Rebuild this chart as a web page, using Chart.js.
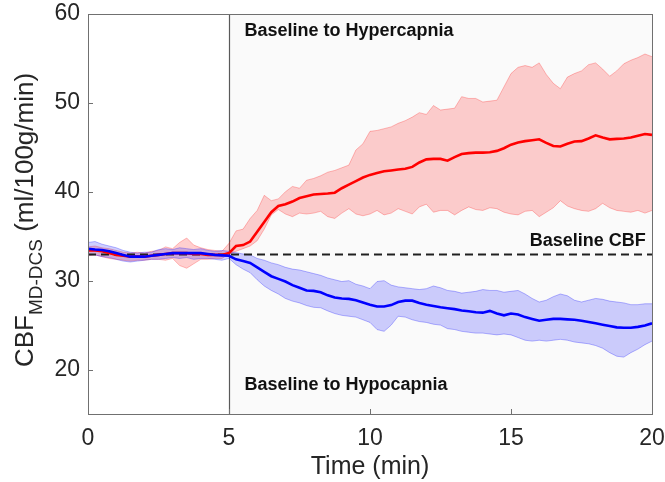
<!DOCTYPE html>
<html>
<head>
<meta charset="utf-8">
<title>CBF MD-DCS during hypercapnia and hypocapnia</title>
<script src="https://cdn.jsdelivr.net/npm/chart.js@4.4.1/dist/chart.umd.min.js"></script>
<style>
    html, body { margin: 0; padding: 0; background: #ffffff; }
    #wrap { width: 665px; height: 482px; }
</style>
</head>
<body>
<div id="wrap"><canvas id="cbfChart"></canvas></div>
<script>
// time axis (min)
const timeMin = [0,0.25,0.5,0.75,1,1.25,1.5,1.75,2,2.25,2.5,2.75,3,3.25,3.5,3.75,4,4.25,4.5,4.75,
    5,5.25,5.5,5.75,6,6.25,6.5,6.75,7,7.25,7.5,7.75,8,8.25,8.5,8.75,9,9.25,9.5,9.75,
    10,10.25,10.5,10.75,11,11.25,11.5,11.75,12,12.25,12.5,12.75,13,13.25,13.5,13.75,14,14.25,14.5,14.75,
    15,15.25,15.5,15.75,16,16.25,16.5,16.75,17,17.25,17.5,17.75,18,18.25,18.5,18.75,19,19.25,19.5,19.75,20];

// baseline -> hypercapnia (red)
const hyperMean = [33.4,33.4,33.3,33.1,32.9,32.8,32.7,32.7,32.7,32.8,32.9,33.0,33.1,33.1,33.1,33.0,33.0,32.9,32.9,32.9,
    33.1,33.9,34.0,34.4,35.5,36.6,37.7,38.4,38.6,38.9,39.3,39.5,39.7,39.75,39.8,39.9,40.4,40.8,41.2,41.6,
    41.9,42.1,42.3,42.4,42.5,42.6,42.8,43.3,43.65,43.7,43.7,43.5,43.9,44.25,44.35,44.4,44.4,44.45,44.6,44.9,
    45.3,45.55,45.7,45.8,45.9,45.5,45.15,45.1,45.4,45.65,45.7,46.0,46.35,46.1,45.9,45.95,46.0,46.1,46.3,46.5,46.4];
const hyperUpper = [33.8,33.9,33.7,33.6,33.4,33.2,33.1,33.2,33.1,33.3,33.4,33.8,33.6,34.3,34.8,34.0,33.7,33.5,33.4,33.3,
    34.2,35.6,35.8,37.0,37.9,39.6,39.0,39.2,40.0,40.6,40.4,41.3,41.5,41.8,42.2,42.4,42.7,43.0,44.7,45.4,
    46.8,46.9,47.1,47.3,47.7,48.0,48.4,48.9,48.7,49.7,49.2,49.3,49.4,50.7,50.5,50.5,50.1,50.2,50.3,51.8,
    53.3,54.0,54.2,54.0,54.5,53.2,52.2,51.6,52.9,53.3,53.6,54.3,54.5,53.8,53.0,53.6,54.4,54.8,55.1,55.5,55.2];
const hyperLower = [32.8,32.9,32.7,32.5,32.4,32.3,32.2,32.3,32.3,32.4,32.4,32.3,32.5,31.7,31.4,31.9,32.4,32.4,32.5,32.5,
    33.0,33.3,33.6,33.9,34.5,35.8,37.4,38.0,37.5,37.2,37.6,37.5,37.6,37.8,37.2,37.0,37.6,38.1,37.5,37.3,
    37.5,37.9,37.4,37.6,38.1,37.8,37.5,38.3,38.6,37.7,37.9,37.9,37.4,37.9,38.3,38.0,37.9,38.2,38.1,37.7,
    37.5,37.4,37.8,37.9,37.2,37.7,38.2,39.0,38.4,38.1,37.9,37.8,38.1,38.7,38.2,37.9,37.8,37.7,37.9,37.6,37.9];

// baseline -> hypocapnia (blue)
const hypoMean = [33.6,33.5,33.45,33.3,33.1,32.9,32.7,32.7,32.7,32.8,32.9,33.0,33.1,33.1,33.1,33.1,33.1,33.0,32.9,32.85,
    32.8,32.4,32.2,32.0,31.5,31.0,30.5,30.2,29.9,29.5,29.2,28.9,28.85,28.7,28.35,28.1,28.0,27.95,27.8,27.55,
    27.3,27.1,27.1,27.25,27.6,27.75,27.75,27.5,27.3,27.15,27.0,26.9,26.8,26.65,26.55,26.45,26.4,26.6,26.3,26.1,
    26.3,26.2,25.9,25.7,25.5,25.6,25.7,25.7,25.65,25.6,25.5,25.35,25.2,25.05,24.9,24.75,24.7,24.7,24.8,24.95,25.2];
const hypoUpper = [34.3,34.4,34.1,33.9,33.7,33.4,33.2,33.1,33.2,33.2,33.5,33.6,33.5,33.7,33.6,33.5,33.6,33.4,33.3,33.4,
    33.3,33.15,33.0,32.9,32.5,32.3,32.0,31.8,31.5,31.3,31.2,31.0,30.8,30.6,30.3,30.1,29.9,30.0,29.6,29.4,
    29.1,29.9,30.0,29.5,29.3,29.2,29.1,29.0,29.1,29.4,29.2,28.9,28.8,28.6,28.7,28.8,29.0,28.9,28.9,28.7,
    28.8,28.9,28.5,28.0,27.6,27.8,28.2,28.5,28.3,27.8,27.6,27.8,28.0,27.9,27.7,27.6,27.5,27.3,27.3,27.4,27.4];
const hypoLower = [32.9,32.9,32.7,32.6,32.4,32.2,32.1,32.2,32.3,32.4,32.4,32.5,32.6,32.5,32.6,32.4,32.5,32.5,32.4,32.3,
    32.5,31.8,31.3,30.9,30.1,29.4,28.9,28.5,28.0,27.7,27.5,27.2,27.0,26.95,26.6,26.3,26.1,26.0,25.9,25.6,
    25.3,24.5,24.3,25.0,26.0,25.9,25.6,25.4,25.3,25.1,25.0,24.6,24.5,24.3,24.2,24.1,24.1,24.0,23.9,24.0,
    23.9,23.6,23.3,23.2,23.3,23.2,23.3,23.4,23.3,23.1,23.0,22.9,22.7,22.4,21.9,21.5,21.4,21.9,22.3,22.8,23.2];

const baselineCBF = 33;
const challengeStart = 5;
const xTicks = [0, 5, 10, 15, 20];
const yTicks = [20, 30, 40, 50, 60];

const FONT = '"Liberation Sans", Arial, Helvetica, sans-serif';

function toPoints(vals) {
    return timeMin.map((t, i) => ({ x: t, y: vals[i] }));
}

function lineSet(label, vals, color, width, fill, bg) {
    return {
        label: label,
        data: toPoints(vals),
        borderColor: color,
        borderWidth: width,
        backgroundColor: bg || 'transparent',
        fill: fill,
        pointRadius: 0,
        tension: 0
    };
}

// first dataset ends up on top
const datasets = [
    lineSet('Hypocapnia mean', hypoMean, '#0000ff', 2.6, false),
    lineSet('Hypercapnia mean', hyperMean, '#ff0000', 2.6, false),
    lineSet('Hypocapnia upper', hypoUpper, 'rgba(0,0,255,0.28)', 1, '+1', 'rgba(0,0,255,0.19)'),
    lineSet('Hypocapnia lower', hypoLower, 'rgba(0,0,255,0.28)', 1, false),
    lineSet('Hypercapnia upper', hyperUpper, 'rgba(255,0,0,0.25)', 1, '+1', 'rgba(255,0,0,0.19)'),
    lineSet('Hypercapnia lower', hyperLower, 'rgba(255,0,0,0.25)', 1, false)
];

const decor = {
    id: 'decor',
    beforeDatasetsDraw(chart) {
        const { ctx, chartArea: a, scales: { x, y } } = chart;
        const x5 = x.getPixelForValue(challengeStart);
        ctx.save();
        ctx.fillStyle = '#fafafa';
        ctx.fillRect(x5, a.top, a.right - x5, a.bottom - a.top);
        ctx.strokeStyle = '#5a5a5a';
        ctx.lineWidth = 1.2;
        ctx.beginPath();
        ctx.moveTo(Math.round(x5) + 0.5, a.top);
        ctx.lineTo(Math.round(x5) + 0.5, a.bottom);
        ctx.stroke();
        ctx.restore();
    },
    afterDatasetDraw(chart, args) {
        if (args.index !== 2) return;
        const { ctx, chartArea: a, scales: { y } } = chart;
        const yb = Math.round(y.getPixelForValue(baselineCBF)) + 0.5;
        ctx.save();
        ctx.strokeStyle = '#202020';
        ctx.lineWidth = 2;
        ctx.setLineDash([8, 5]);
        ctx.beginPath();
        ctx.moveTo(a.left, yb);
        ctx.lineTo(a.right, yb);
        ctx.stroke();
        ctx.restore();
    },
    afterDraw(chart) {
        const { ctx, chartArea: a, scales: { x, y } } = chart;
        ctx.save();
        // box
        ctx.strokeStyle = '#707070';
        ctx.lineWidth = 1;
        ctx.strokeRect(Math.round(a.left) + 0.5, Math.round(a.top) + 0.5,
            Math.round(a.right - a.left), Math.round(a.bottom - a.top));
        // inward ticks
        ctx.beginPath();
        yTicks.forEach(v => {
            const py = Math.round(y.getPixelForValue(v)) + 0.5;
            ctx.moveTo(a.left, py); ctx.lineTo(a.left + 5, py);
        });
        xTicks.forEach(v => {
            const px = Math.round(x.getPixelForValue(v)) + 0.5;
            ctx.moveTo(px, a.bottom); ctx.lineTo(px, a.bottom - 5);
        });
        ctx.stroke();

        // annotations
        ctx.fillStyle = '#111111';
        ctx.font = 'bold 18px ' + FONT;
        ctx.textBaseline = 'middle';
        ctx.textAlign = 'left';
        ctx.fillText('Baseline to Hypercapnia', x.getPixelForValue(5.55), y.getPixelForValue(58.1));
        ctx.fillText('Baseline to Hypocapnia', x.getPixelForValue(5.55), y.getPixelForValue(18.3));
        ctx.textAlign = 'right';
        ctx.fillText('Baseline CBF', x.getPixelForValue(19.78), y.getPixelForValue(34.5));

        // y title with subscript
        const main = '26px ' + FONT, sub = '19px ' + FONT;
        ctx.font = main;
        const w1 = ctx.measureText('CBF').width;
        const w3 = ctx.measureText(' (ml/100g/min)').width;
        ctx.font = sub;
        const w2 = ctx.measureText('MD-DCS').width;
        const total = w1 + w2 + w3;
        ctx.translate(33, (a.top + a.bottom) / 2 + 6);
        ctx.rotate(-Math.PI / 2);
        ctx.fillStyle = '#262626';
        ctx.textAlign = 'left';
        ctx.textBaseline = 'alphabetic';
        let cx = -total / 2;
        ctx.font = main;
        ctx.fillText('CBF', cx, 0);
        cx += w1;
        ctx.font = sub;
        ctx.fillText('MD-DCS', cx, 9);
        cx += w2;
        ctx.font = main;
        ctx.fillText(' (ml/100g/min)', cx, 0);
        ctx.restore();
    }
};

new Chart(document.getElementById('cbfChart'), {
    type: 'line',
    data: { datasets: datasets },
    options: {
        responsive: true,
        maintainAspectRatio: false,
        animation: false,
        layout: { padding: { top: 14, right: 13, left: 0, bottom: 0 } },
        plugins: { legend: { display: false }, tooltip: { enabled: false } },
        scales: {
            x: {
                type: 'linear',
                min: 0, max: 20,
                afterBuildTicks: s => { s.ticks = xTicks.map(v => ({ value: v })); },
                afterFit: s => { s.height = 68; s.paddingLeft = 0; s.paddingRight = 0; },
                grid: { display: false, drawTicks: false },
                border: { display: false },
                ticks: { color: '#262626', font: { family: FONT, size: 23 }, padding: 11, maxRotation: 0 },
                title: { display: true, text: 'Time (min)', color: '#262626',
                         font: { family: FONT, size: 25 }, padding: { top: 0, bottom: 0 } }
            },
            y: {
                min: 15, max: 60,
                afterBuildTicks: s => { s.ticks = yTicks.map(v => ({ value: v })); },
                afterFit: s => { s.width = 88; s.paddingTop = 0; s.paddingBottom = 0; },
                grid: { display: false, drawTicks: false },
                border: { display: false },
                ticks: { color: '#262626', font: { family: FONT, size: 23 }, padding: 8 }
            }
        }
    },
    plugins: [decor]
});
</script>
</body>
</html>
